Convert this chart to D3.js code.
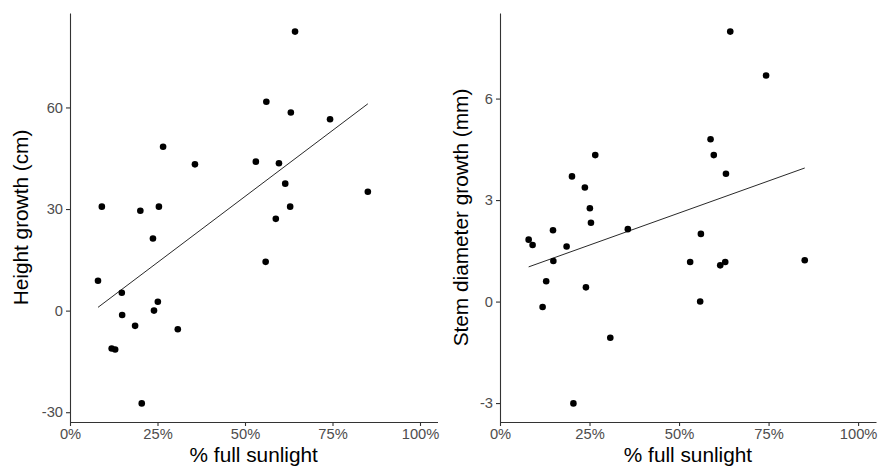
<!DOCTYPE html>
<html lang="en">
  <head>
    <meta charset="utf-8" />
    <title>Growth vs sunlight</title>
    <script src="https://cdnjs.cloudflare.com/ajax/libs/d3/7.8.5/d3.min.js"></script>
    <style>
      body {
        margin: 0;
        background: #fff;
        font-family: "Liberation Sans", Arial, sans-serif;
      }
      .axis path,
      .axis line {
        stroke: #333;
        stroke-width: 1.1px;
      }
      .axis text {
        fill: #4d4d4d;
        font-size: 14.7px;
        font-family: "Liberation Sans", Arial, sans-serif;
      }
      .title {
        fill: #000;
        font-size: 20.8px;
      }
    </style>
  </head>
  <body>
    <svg id="chart" width="878" height="470"></svg>
    <script>
      // % full sunlight (fraction), same seedlings in both panels
      const sunlight = [
        0.643, 0.561, 0.631, 0.743, 0.266, 0.357, 0.531, 0.597, 0.615, 0.851,
        0.091, 0.201, 0.254, 0.629, 0.588, 0.237, 0.559, 0.08, 0.148, 0.251,
        0.24, 0.149, 0.186, 0.308, 0.119, 0.129, 0.205,
      ];
      const heightGrowth = [
        82.4, 61.7, 58.5, 56.5, 48.4, 43.2, 44.0, 43.5, 37.5, 35.1,
        30.7, 29.5, 30.7, 30.7, 27.1, 21.3, 14.4, 8.8, 5.3, 2.6,
        0.0, -1.3, -4.5, -5.5, -11.2, -11.5, -27.4,
      ];
      const diameterGrowth = [
        7.98, 2.0, 3.78, 6.68, 4.33, 2.14, 1.17, 4.33, 1.07, 1.22,
        1.67, 3.7, 2.33, 1.17, 4.8, 3.37, 0.0, 1.83, 2.11, 2.76,
        0.42, 1.2, 1.63, -1.07, -0.16, 0.6, -3.01,
      ];
      const xTicks = [0, 0.25, 0.5, 0.75, 1];
      const heightTicks = [-30, 0, 30, 60];
      const diameterTicks = [-3, 0, 3, 6];

      const svg = d3.select("#chart");
      const plotTop = 13,
        plotBottom = 422;

      function linearFit(xs, ys) {
        const mx = d3.mean(xs),
          my = d3.mean(ys);
        let sxy = 0,
          sxx = 0;
        xs.forEach((x, i) => {
          sxy += (x - mx) * (ys[i] - my);
          sxx += (x - mx) * (x - mx);
        });
        const b = sxy / sxx;
        return { a: my - b * mx, b };
      }

      function drawPanel(left, right, ys, yTicks, yLabel, titleX) {
        const g = svg.append("g");
        const x = d3.scaleLinear().domain([0, 1.05]).range([left, right]);
        const [lo, hi] = d3.extent(ys);
        const pad = (hi - lo) * 0.05;
        const y = d3
          .scaleLinear()
          .domain([lo - pad, hi + pad])
          .range([plotBottom, plotTop]);

        g.append("g")
          .attr("class", "axis")
          .attr("transform", `translate(0,${plotBottom})`)
          .call(
            d3
              .axisBottom(x)
              .tickValues(xTicks)
              .tickFormat((d) => Math.round(d * 100) + "%")
              .tickSizeInner(4)
              .tickSizeOuter(0)
              .tickPadding(3)
          );

        g.append("g")
          .attr("class", "axis")
          .attr("transform", `translate(${left},0)`)
          .call(
            d3
              .axisLeft(y)
              .tickValues(yTicks)
              .tickFormat((d) => String(d)) // plain hyphen minus like ggplot
              .tickSizeInner(4)
              .tickSizeOuter(0)
              .tickPadding(3)
          );

        // fitted line over the data range
        const fit = linearFit(sunlight, ys);
        const [x0, x1] = d3.extent(sunlight);
        g.append("line")
          .attr("x1", x(x0))
          .attr("y1", y(fit.a + fit.b * x0))
          .attr("x2", x(x1))
          .attr("y2", y(fit.a + fit.b * x1))
          .attr("stroke", "#111")
          .attr("stroke-width", 0.9);

        g.selectAll("circle")
          .data(sunlight)
          .join("circle")
          .attr("cx", (d) => x(d))
          .attr("cy", (d, i) => y(ys[i]))
          .attr("r", 3.3)
          .attr("fill", "#000");

        g.append("text")
          .attr("class", "title")
          .attr("x", (left + right) / 2)
          .attr("y", 462)
          .attr("text-anchor", "middle")
          .text("% full sunlight");

        g.append("text")
          .attr("class", "title")
          .attr(
            "transform",
            `translate(${titleX},${(plotTop + plotBottom) / 2}) rotate(-90)`
          )
          .attr("text-anchor", "middle")
          .text(yLabel);
      }

      drawPanel(70, 437.5, heightGrowth, heightTicks, "Height growth (cm)", 28);
      drawPanel(
        500,
        876,
        diameterGrowth,
        diameterTicks,
        "Stem diameter growth (mm)",
        468
      );
    </script>
  </body>
</html>
